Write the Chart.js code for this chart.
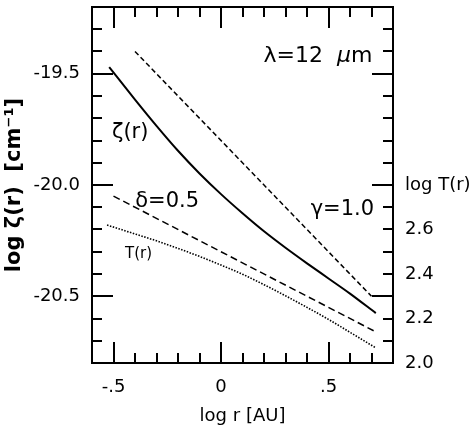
<!DOCTYPE html>
<html><head><meta charset="utf-8">
<script src="https://cdn.jsdelivr.net/npm/chart.js@4.4.0/dist/chart.umd.min.js"></script>
<style>html,body{margin:0;padding:0;background:#fff;} canvas{display:block;}</style>
</head><body>
<canvas id="c" width="469" height="432"></canvas>
<script>
// ---- data ----
const zetaLogR = [-0.52,-0.4,-0.3,-0.2,-0.1,0,0.1,0.2,0.3,0.4,0.5,0.6,0.72];
const zetaLog  = [-19.47,-19.616,-19.734,-19.846,-19.948,-20.041,-20.127,-20.208,-20.282,-20.352,-20.420,-20.488,-20.576];
const gammaLogR = [-0.4, 0.7];
const gammaLog  = [-19.4, -20.5];
const deltaLogR = [-0.5, 0.71];
const deltaLog  = [-20.05, -20.655];
const tempLogR = [-0.53,-0.4,-0.3,-0.2,-0.1,0,0.1,0.2,0.3,0.4,0.5,0.6,0.72];
const tempLogT = [2.620,2.580,2.549,2.515,2.479,2.440,2.399,2.352,2.302,2.250,2.196,2.138,2.068];
const xTickValues = [-0.5, 0, 0.5];
const xTickLabels = ['-.5', '0', '.5'];
const yTickValues = [-19.5, -20.0, -20.5];
const yTickLabels = ['-19.5', '-20.0', '-20.5'];
const tTickValues = [2.0, 2.2, 2.4, 2.6, 2.8];
const tTickLabels = ['2.0', '2.2', '2.4', '2.6', 'log T(r)'];

const FONT = 'DejaVu Sans';
Chart.defaults.font.family = FONT;
Chart.defaults.color = '#000';

function pts(xs, ys){ return xs.map((x,i)=>({x:x, y:ys[i]})); }
function labeler(values, labels){
  return function(v){ const i = values.findIndex(t => Math.abs(t - v) < 1e-6); return i >= 0 ? labels[i] : ''; };
}
function fixTicks(values){ return function(s){ s.ticks = values.map(v => ({value:v})); }; }
function noPad(s){ s.paddingTop = 0; s.paddingBottom = 0; s.paddingLeft = 0; s.paddingRight = 0; }

// annotation text (positions in data units)
const notes = [
  {parts:[{t:'λ=12  ', style:''},{t:'μ', style:'italic '},{t:'m', style:''}], x:0.198, y:-19.447, size:22},
  {parts:[{t:'ζ(r)', style:''}], x:-0.507, y:-19.791, size:21},
  {parts:[{t:'δ=0.5', style:''}], x:-0.399, y:-20.100, size:21},
  {parts:[{t:'γ=1.0', style:''}], x:0.417, y:-20.135, size:21},
  {parts:[{t:'T(r)', style:''}], x:-0.446, y:-20.328, size:15}
];

const inTicks = {
  id: 'inTicks',
  afterDraw(chart){
    const {ctx, chartArea:a, scales} = chart;
    const x = scales.x, y = scales.y;
    ctx.save();
    ctx.strokeStyle = '#000';
    ctx.lineWidth = 2;
    ctx.beginPath();
    for (let k = -5; k <= 7; k++){
      const px = Math.round(x.getPixelForValue(k/10));
      const L = (k % 5 === 0) ? 21 : 10;
      ctx.moveTo(px, a.bottom); ctx.lineTo(px, a.bottom - L);
      ctx.moveTo(px, a.top); ctx.lineTo(px, a.top + L);
    }
    for (let k = -207; k <= -193; k++){
      const py = Math.round(y.getPixelForValue(k/10));
      const L = (k % 5 === 0) ? 21 : 10;
      ctx.moveTo(a.left, py); ctx.lineTo(a.left + L, py);
      ctx.moveTo(a.right, py); ctx.lineTo(a.right - L, py);
    }
    ctx.stroke();
    // annotations
    ctx.fillStyle = '#000';
    ctx.textBaseline = 'alphabetic';
    ctx.textAlign = 'left';
    for (const n of notes){
      const px = x.getPixelForValue(n.x);
      const py = y.getPixelForValue(n.y);
      let cx = px;
      for (const p of n.parts){
        ctx.font = p.style + n.size + 'px "' + FONT + '"';
        ctx.fillText(p.t, cx, py);
        cx += ctx.measureText(p.t).width;
      }
    }
    ctx.restore();
  }
};

const tickFont = {family: FONT, size: 18};

new Chart(document.getElementById('c'), {
  type: 'line',
  data: {
    datasets: [
      {label:'zeta', data: pts(zetaLogR, zetaLog), borderColor:'#000', borderWidth:2, pointRadius:0, cubicInterpolationMode:'monotone', yAxisID:'y', xAxisID:'x'},
      {label:'gamma', data: pts(gammaLogR, gammaLog), borderColor:'#000', borderWidth:1.5, borderDash:[5,3], pointRadius:0, yAxisID:'y', xAxisID:'x'},
      {label:'delta', data: pts(deltaLogR, deltaLog), borderColor:'#000', borderWidth:1.5, borderDash:[7,4], pointRadius:0, yAxisID:'y', xAxisID:'x'},
      {label:'T', data: pts(tempLogR, tempLogT), borderColor:'#000', borderWidth:1.6, borderDash:[1.5,1.5], pointRadius:0, cubicInterpolationMode:'monotone', yAxisID:'yT', xAxisID:'x'}
    ]
  },
  options: {
    responsive: false,
    animation: false,
    devicePixelRatio: 1,
    layout: {padding: 0},
    plugins: {legend:{display:false}, tooltip:{enabled:false}},
    scales: {
      x: {
        type:'linear', position:'bottom', min:-0.6, max:0.8,
        afterBuildTicks: fixTicks(xTickValues),
        ticks: {callback: labeler(xTickValues, xTickLabels), font: tickFont, color:'#000', padding:14, autoSkip:false, maxRotation:0},
        grid: {display:false, drawTicks:false},
        border: {display:true, color:'#000', width:2},
        title: {display:true, text:'log r [AU]', font:{family:FONT, size:18}, color:'#000', padding:{top:0, bottom:5}},
        afterFit: s => { s.height = 69; noPad(s); }
      },
      x2: {
        type:'linear', axis:'x', position:'top', min:-0.6, max:0.8,
        ticks: {display:false}, grid: {display:false, drawTicks:false},
        border: {display:true, color:'#000', width:2},
        afterFit: s => { s.height = 7; noPad(s); }
      },
      y: {
        type:'linear', position:'left', min:-20.8, max:-19.2,
        afterBuildTicks: fixTicks(yTickValues),
        ticks: {callback: labeler(yTickValues, yTickLabels), font: tickFont, color:'#000', padding:12, autoSkip:false},
        grid: {display:false, drawTicks:false},
        border: {display:true, color:'#000', width:2},
        title: {display:true, text:'log ζ(r)  [cm⁻¹]', font:{family:FONT, size:21, weight:'bold'}, color:'#000', padding:{top:2, bottom:0}},
        afterFit: s => { s.width = 92; noPad(s); }
      },
      yT: {
        type:'linear', axis:'y', position:'right', min:2.0, max:3.6,
        afterBuildTicks: fixTicks(tTickValues),
        ticks: {callback: labeler(tTickValues, tTickLabels), font: tickFont, color:'#000', padding:12, autoSkip:false},
        grid: {display:false, drawTicks:false},
        border: {display:true, color:'#000', width:2},
        afterFit: s => { s.width = 76; noPad(s); }
      }
    }
  },
  plugins: [inTicks]
});
</script>
</body></html>
